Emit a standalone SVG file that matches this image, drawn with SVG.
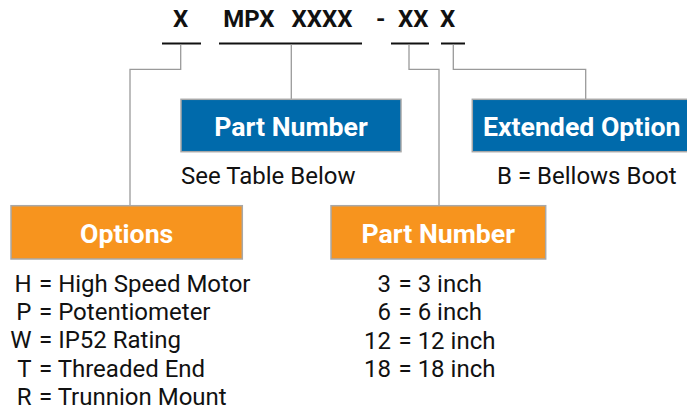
<svg xmlns="http://www.w3.org/2000/svg" width="687" height="412" viewBox="0 0 687 412">
<style>
.code{font-family:Roboto,"Liberation Sans",sans-serif;font-weight:bold;font-size:24px;fill:#111}
.ul{stroke:#111;stroke-width:2;fill:none}
.con{stroke:#9a9a9a;stroke-width:1.3;fill:none}
.box{stroke:#a8a8a8;stroke-width:1.5}
.blue{fill:#006aab}
.orange{fill:#f7941e}
.hd{font-family:Roboto,"Liberation Sans",sans-serif;font-weight:bold;font-size:26.7px;fill:#fff;text-anchor:middle}
.bd{font-family:Roboto,"Liberation Sans",sans-serif;font-size:24px;fill:#111}
.r{text-anchor:end}
</style>
<rect width="687" height="412" fill="#fff"/>
<g id="code">
<text class="code" x="173" y="27">X</text>
<text class="code" x="223.3" y="27">MPX</text>
<text class="code" x="291.5" y="27">XXXX</text>
<text class="code" x="376" y="27">-</text>
<text class="code" x="398" y="27">XX</text>
<text class="code" x="440" y="27">X</text>
<path class="ul" d="M162 43.5H201M219 43.5H362M391 43.5H429M441 43.5H465"/>
</g>
<g id="connectors">
<path class="con" d="M180.7 44.5V69.3H130V205.7"/>
<path class="con" d="M291.3 44.5V99"/>
<path class="con" d="M409 44.5V69.3H439V205.7"/>
<path class="con" d="M453.3 44.5V69.3H585.7V99"/>
</g>
<g id="part-number-top">
<rect class="box blue" x="181" y="99.3" width="220" height="52.4"/>
<text class="hd" x="291" y="136">Part Number</text>
<text class="bd" x="181" y="184.3">See Table Below</text>
</g>
<g id="extended-option">
<rect class="box blue" x="472.3" y="99.3" width="216" height="52.4"/>
<text class="hd" x="581.7" y="135.5">Extended Option</text>
<text class="bd" x="497" y="184.3">B = Bellows Boot</text>
</g>
<g id="options">
<rect class="box orange" x="11" y="205.7" width="231.3" height="53.3"/>
<text class="hd" x="126.7" y="242.5">Options</text>
<text class="bd r" x="31.5" y="291.7">H</text><text class="bd" x="39" y="291.7">= High Speed Motor</text>
<text class="bd r" x="31.5" y="320">P</text><text class="bd" x="39" y="320">= Potentiometer</text>
<text class="bd r" x="31.5" y="348.3">W</text><text class="bd" x="39" y="348.3">= IP52 Rating</text>
<text class="bd r" x="31.5" y="376.7">T</text><text class="bd" x="39" y="376.7">= Threaded End</text>
<text class="bd r" x="31.5" y="405">R</text><text class="bd" x="39" y="405">= Trunnion Mount</text>
</g>
<g id="part-number-bottom">
<rect class="box orange" x="331" y="205.7" width="214.7" height="53.3"/>
<text class="hd" x="438.3" y="242.7">Part Number</text>
<text class="bd r" x="391" y="292.3">3</text><text class="bd" x="398.5" y="292.3">= 3 inch</text>
<text class="bd r" x="391" y="320.3">6</text><text class="bd" x="398.5" y="320.3">= 6 inch</text>
<text class="bd r" x="391" y="348.7">12</text><text class="bd" x="398.5" y="348.7">= 12 inch</text>
<text class="bd r" x="391" y="376.7">18</text><text class="bd" x="398.5" y="376.7">= 18 inch</text>
</g>
</svg>
